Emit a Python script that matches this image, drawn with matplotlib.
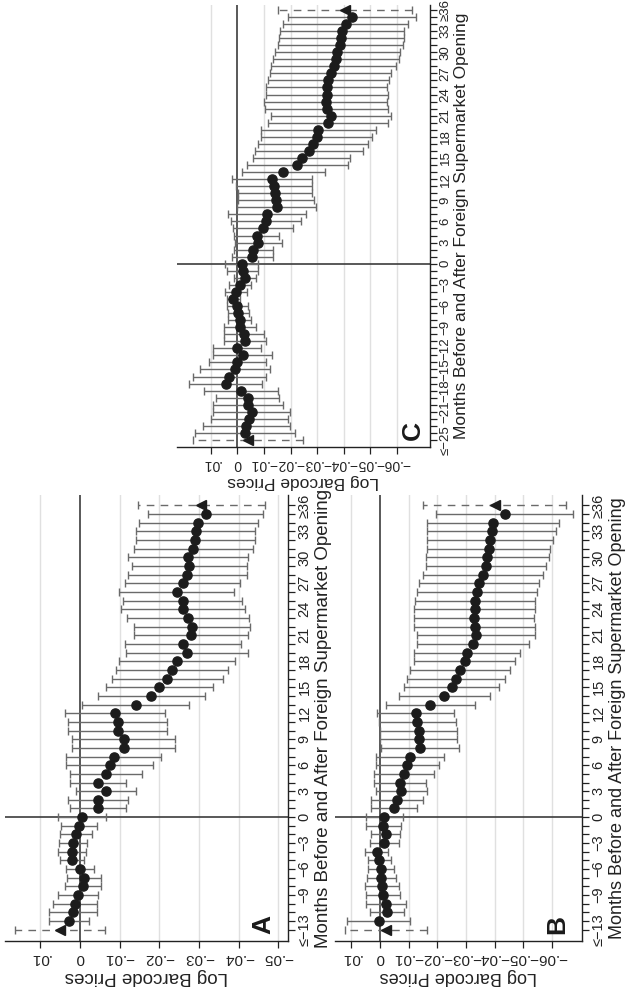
import numpy as np
import matplotlib
matplotlib.use("Agg")
import matplotlib.pyplot as plt
from matplotlib.ticker import FixedLocator

plt.rcParams['font.family'] = ['Liberation Sans', 'DejaVu Sans']

# ---------------- data ----------------
months_ab = list(range(-13, 37))
months_c = list(range(-25, 37))

coef_a = [0.0050, 0.0028, 0.0018, 0.0012, 0.0005, -0.0008, -0.0010, 0.0000, 0.0020, 0.0020,
          0.0018, 0.0010, 0.0002, -0.0005, -0.0045, -0.0045, -0.0065, -0.0045, -0.0065, -0.0075,
          -0.0085, -0.0110, -0.0110, -0.0095, -0.0095, -0.0088, -0.0140, -0.0180, -0.0200, -0.0220,
          -0.0232, -0.0244, -0.0270, -0.0259, -0.0280, -0.0282, -0.0272, -0.0259, -0.0259, -0.0244,
          -0.0259, -0.0270, -0.0275, -0.0272, -0.0285, -0.0290, -0.0292, -0.0298, -0.0317, -0.0305]
hw_a = [0.0114, 0.0050, 0.0060, 0.0055, 0.0050, 0.0045, 0.0042, 0.0035, 0.0030, 0.0035,
        0.0035, 0.0040, 0.0045, 0.0060, 0.0070, 0.0075, 0.0075, 0.0070, 0.0090, 0.0110,
        0.0120, 0.0130, 0.0130, 0.0125, 0.0125, 0.0125, 0.0135, 0.0135, 0.0135, 0.0140,
        0.0141, 0.0146, 0.0154, 0.0146, 0.0144, 0.0146, 0.0153, 0.0157, 0.0150, 0.0145,
        0.0145, 0.0150, 0.0145, 0.0150, 0.0150, 0.0150, 0.0150, 0.0150, 0.0145, 0.0160]

coef_b = [-0.0020, 0.0005, -0.0025, -0.0020, -0.0010, -0.0008, -0.0005, -0.0003, 0.0003, 0.0012,
          -0.0015, -0.0020, -0.0012, -0.0015, -0.0050, -0.0060, -0.0075, -0.0070, -0.0085, -0.0095,
          -0.0105, -0.0140, -0.0135, -0.0135, -0.0130, -0.0125, -0.0175, -0.0225, -0.0250, -0.0265,
          -0.0280, -0.0295, -0.0305, -0.0325, -0.0335, -0.0330, -0.0328, -0.0330, -0.0332, -0.0338,
          -0.0345, -0.0360, -0.0370, -0.0375, -0.0380, -0.0385, -0.0390, -0.0395, -0.0435, -0.0400]
hw_b = [0.0143, 0.0110, 0.0060, 0.0070, 0.0060, 0.0060, 0.0050, 0.0045, 0.0040, 0.0040,
        0.0050, 0.0050, 0.0060, 0.0065, 0.0080, 0.0090, 0.0090, 0.0090, 0.0105, 0.0110,
        0.0120, 0.0135, 0.0135, 0.0135, 0.0135, 0.0135, 0.0155, 0.0160, 0.0165, 0.0170,
        0.0175, 0.0175, 0.0185, 0.0195, 0.0205, 0.0210, 0.0210, 0.0210, 0.0210, 0.0210,
        0.0210, 0.0210, 0.0210, 0.0215, 0.0215, 0.0220, 0.0225, 0.0230, 0.0240, 0.0250]

coef_c = [-0.0041, -0.0029, -0.0033, -0.0045, -0.0054, -0.0041, -0.0039, -0.0013, 0.0044, 0.0030,
          0.0009, 0.0000, -0.0020, 0.0000, -0.0029, -0.0025, -0.0010, -0.0008, -0.0004, 0.0000,
          0.0015, 0.0005, -0.0010, -0.0029, -0.0020, -0.0016, -0.0056, -0.0060, -0.0079, -0.0073,
          -0.0095, -0.0108, -0.0110, -0.0148, -0.0145, -0.0141, -0.0138, -0.0131, -0.0173, -0.0225,
          -0.0241, -0.0270, -0.0285, -0.0298, -0.0304, -0.0341, -0.0353, -0.0335, -0.0332, -0.0337,
          -0.0335, -0.0342, -0.0350, -0.0362, -0.0370, -0.0376, -0.0387, -0.0391, -0.0394, -0.0407,
          -0.0430, -0.0404]
hw_c = [0.0206, 0.0189, 0.0163, 0.0145, 0.0144, 0.0131, 0.0119, 0.0140, 0.0138, 0.0136,
        0.0130, 0.0107, 0.0110, 0.0090, 0.0078, 0.0075, 0.0060, 0.0045, 0.0040, 0.0040,
        0.0025, 0.0040, 0.0040, 0.0040, 0.0059, 0.0063, 0.0078, 0.0072, 0.0088, 0.0084,
        0.0113, 0.0131, 0.0147, 0.0149, 0.0143, 0.0140, 0.0142, 0.0150, 0.0155, 0.0189,
        0.0184, 0.0203, 0.0206, 0.0209, 0.0216, 0.0225, 0.0226, 0.0230, 0.0231, 0.0229,
        0.0229, 0.0228, 0.0227, 0.0236, 0.0236, 0.0234, 0.0234, 0.0234, 0.0233, 0.0234,
        0.0241, 0.0253]

price_ticks_a = [0.01, 0.0, -0.01, -0.02, -0.03, -0.04, -0.05]
price_labels_a = ['.01', '0', '\u2212.01', '\u2212.02', '\u2212.03', '\u2212.04', '\u2212.05']
price_ticks_bc = [0.01, 0.0, -0.01, -0.02, -0.03, -0.04, -0.05, -0.06]
price_labels_bc = ['.01', '0', '\u2212.01', '\u2212.02', '\u2212.03', '\u2212.04', '\u2212.05', '\u2212.06']

month_ticks_ab = [-13, -9, -6, -3, 0, 3, 6, 9, 12, 15, 18, 21, 24, 27, 30, 33, 36]
month_labels_ab = ['\u2264\u221213', '\u22129', '\u22126', '\u22123', '0', '3', '6', '9', '12', '15',
                   '18', '21', '24', '27', '30', '33', '\u226536']
month_ticks_c = [-25, -21, -18, -15, -12, -9, -6, -3, 0, 3, 6, 9, 12, 15, 18, 21, 24, 27, 30, 33, 36]
month_labels_c = ['\u2264\u221225', '\u221221', '\u221218', '\u221215', '\u221212', '\u22129', '\u22126',
                  '\u22123', '0', '3', '6', '9', '12', '15', '18', '21', '24', '27', '30', '33', '\u226536']

x_title = 'Log Barcode Prices'
m_title = 'Months Before and After Foreign Supermarket Opening'

# ---------------- figure ----------------
W, H = 627, 989
fig = plt.figure(figsize=(W / 100, H / 100), dpi=100)


def rect(x0, y0, x1, y1):
    return [x0 / W, 1 - y1 / H, (x1 - x0) / W, (y1 - y0) / H]


DOT = '#1c1c1c'
BAR = '#6a6a6a'
GRID = '#e0e0e0'
ZERO = '#3c3c3c'


def panel(r, months, coef, hw, xlim, ylim, pticks, plabels, mticks, mlabels,
          letter, letter_pos, tick_fs, title_fs, mtick_fs):
    ax = fig.add_axes(r)
    ax.set_xlim(xlim)
    ax.set_ylim(ylim)
    for s in ('top', 'left'):
        ax.spines[s].set_visible(False)
    for s in ('bottom', 'right'):
        ax.spines[s].set_color('#222222')
        ax.spines[s].set_linewidth(1.0)
    ax.yaxis.tick_right()
    ax.yaxis.set_label_position('right')
    ax.set_xticks(pticks)
    ax.set_xticklabels(plabels, rotation=180, fontsize=tick_fs, color='#222222')
    ax.yaxis.set_major_locator(FixedLocator(mticks))
    ax.yaxis.set_minor_locator(FixedLocator(months))
    ax.set_yticklabels(mlabels, rotation=90, fontsize=mtick_fs, va='center', color='#222222')
    ax.tick_params(axis='both', which='both', direction='out', length=5, width=0.9,
                   color='#222222', pad=2)
    for t in pticks:
        if t != 0:
            ax.axvline(t, color=GRID, lw=1.0, zorder=0)
    ax.axvline(0, color=ZERO, lw=1.2, zorder=1)
    ax.axhline(0, color=ZERO, lw=1.2, zorder=1)

    m = np.array(months)
    c = np.array(coef)
    e = np.array(hw)
    ax.errorbar(c[1:-1], m[1:-1], xerr=e[1:-1], fmt='none', ecolor=BAR,
                elinewidth=1.0, capsize=3.2, capthick=1.0, zorder=2)
    ax.plot(c[1:-1], m[1:-1], 'o', color=DOT, ms=6.6, zorder=3)
    for i in (0, -1):
        eb = ax.errorbar([c[i]], [m[i]], xerr=[e[i]], fmt='none', ecolor=BAR,
                         elinewidth=1.0, capsize=3.2, capthick=1.0, zorder=2)
        eb[2][0].set_linestyle((0, (5.5, 4.5)))
        ax.plot([c[i]], [m[i]], '<', color=DOT, ms=7, zorder=3)

    ax.set_xlabel(x_title, rotation=180, fontsize=title_fs, labelpad=2, color='#222222')
    ax.set_ylabel(m_title, rotation=90, fontsize=title_fs, labelpad=2, color='#222222')
    ax.text(letter_pos[0], letter_pos[1], letter, transform=ax.transAxes, rotation=90,
            fontsize=19, fontweight='bold', ha='center', va='center', color='#1a1a1a')
    return ax


panel(rect(5, 495, 288, 941), months_ab, coef_a, hw_a, (0.0189, -0.0524), (-14.3, 37.2),
      price_ticks_a, price_labels_a, month_ticks_ab, month_labels_ab,
      'A', (0.912, 0.036), 11, 13.5, 10.5)

panel(rect(335, 495, 582, 941), months_ab, coef_b, hw_b, (0.0157, -0.0705), (-14.3, 37.2),
      price_ticks_bc, price_labels_bc, month_ticks_ab, month_labels_ab,
      'B', (0.90, 0.036), 11, 13.0, 10.5)

panel(rect(177, 5, 430, 447), months_c, coef_c, hw_c, (0.0227, -0.0724), (-26.0, 36.7),
      price_ticks_bc, price_labels_bc, month_ticks_c, month_labels_c,
      'C', (0.933, 0.038), 10, 12.5, 9.5)

fig.savefig('out.png', dpi=100)
